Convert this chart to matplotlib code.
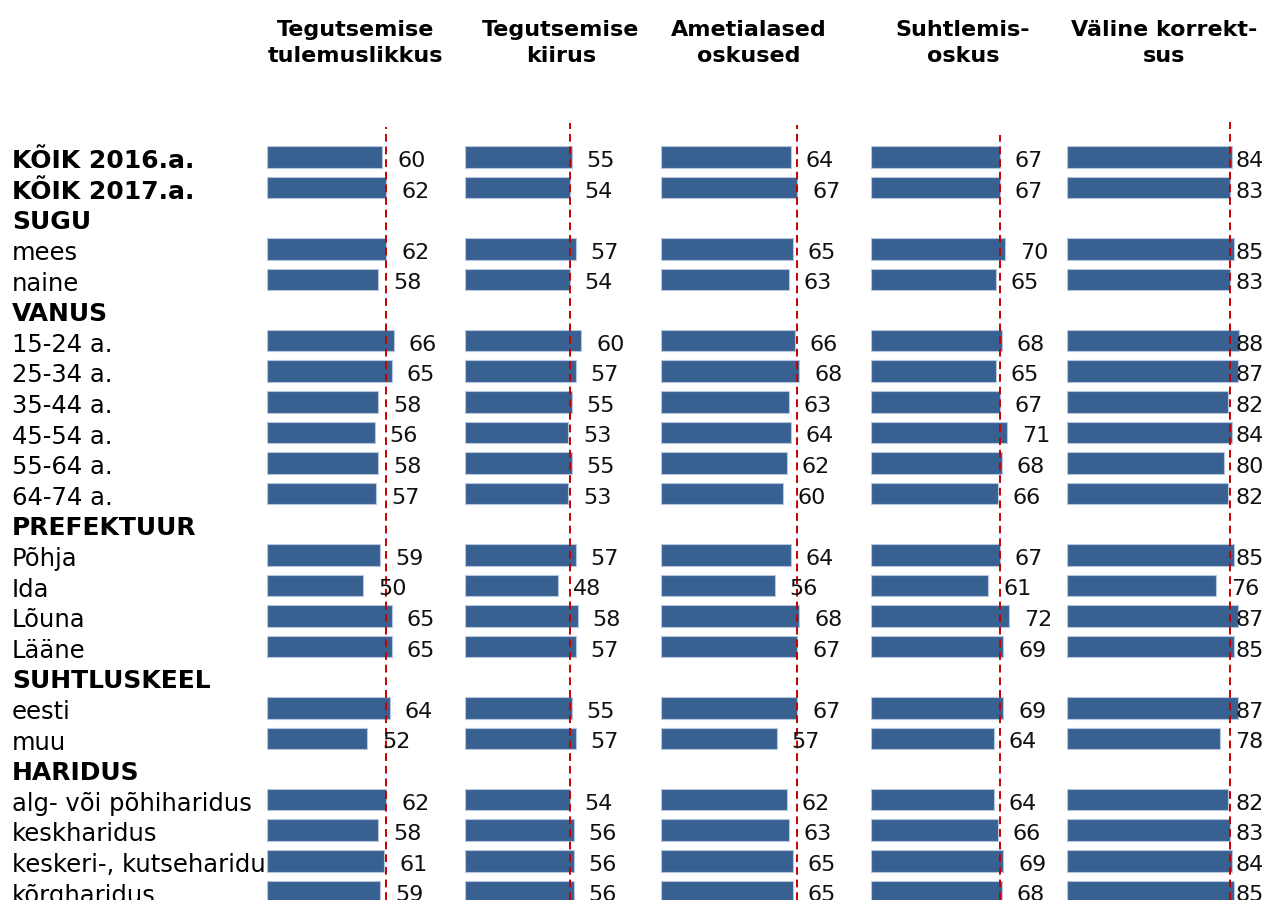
import matplotlib
matplotlib.use("Agg")
import matplotlib.pyplot as plt

plt.rcParams['font.family'] = ['DejaVu Sans']

row_labels = ["KÕIK 2016.a.", "KÕIK 2017.a.", "SUGU", "mees", "naine", "VANUS",
              "15-24 a.", "25-34 a.", "35-44 a.", "45-54 a.", "55-64 a.", "64-74 a.",
              "PREFEKTUUR", "Põhja", "Ida", "Lõuna", "Lääne", "SUHTLUSKEEL",
              "eesti", "muu", "HARIDUS", "alg- või põhiharidus", "keskharidus",
              "keskeri-, kutseharidus", "kõrgharidus"]
bold_rows = {"KÕIK 2016.a.", "KÕIK 2017.a.", "SUGU", "VANUS", "PREFEKTUUR",
             "SUHTLUSKEEL", "HARIDUS"}

panel_titles = ["Tegutsemise\ntulemuslikkus", "Tegutsemise\nkiirus",
                "Ametialased\noskused", "Suhtlemis-\noskus", "Väline korrekt-\nsus"]

N = None
tulemuslikkus = [60, 62, N, 62, 58, N, 66, 65, 58, 56, 58, 57, N, 59, 50, 65, 65, N, 64, 52, N, 62, 58, 61, 59]
kiirus =        [55, 54, N, 57, 54, N, 60, 57, 55, 53, 55, 53, N, 57, 48, 58, 57, N, 55, 57, N, 54, 56, 56, 56]
ametialased =   [64, 67, N, 65, 63, N, 66, 68, 63, 64, 62, 60, N, 64, 56, 68, 67, N, 67, 57, N, 62, 63, 65, 65]
suhtlemis =     [67, 67, N, 70, 65, N, 68, 65, 67, 71, 68, 66, N, 67, 61, 72, 69, N, 69, 64, N, 64, 66, 69, 68]
korrektsus =    [84, 83, N, 85, 83, N, 88, 87, 82, 84, 80, 82, N, 85, 76, 87, 85, N, 87, 78, N, 82, 83, 84, 85]
series = [tulemuslikkus, kiirus, ametialased, suhtlemis, korrektsus]
ref_row = 1  # KÕIK 2017.a. -> dashed reference line

# layout (pixels)
W, H = 1264, 900
panel_left = [267, 465, 661, 871, 1067]
panel_scale = [1.92, 1.94, 2.03, 1.92, 1.96]   # px per unit
title_x = [356, 561, 749, 963, 1164]
dash_top = [127, 123, 125, 135, 122]
label_cap = [None, None, None, None, 1236]
row0_px, row_step = 157, 30.6

fig = plt.figure(figsize=(W / 100, H / 100), dpi=100)
fig.patch.set_facecolor("white")

ylim_top = -row0_px / row_step
ylim_bot = (H - row0_px) / row_step

bar_color = "#386192"
edge_color = "#b7c7de"
for k, vals in enumerate(series):
    xmax = 100
    ax = fig.add_axes([panel_left[k] / W, 0, xmax * panel_scale[k] / W, 1])
    ax.set_xlim(0, xmax)
    ax.set_ylim(ylim_bot, ylim_top)
    ax.axis("off")
    ax.patch.set_alpha(0)
    ax.set_zorder(2)
    ys = [i for i, v in enumerate(vals) if v is not None]
    vs = [v for v in vals if v is not None]
    ax.barh(ys, vs, height=0.7, color=bar_color, edgecolor=edge_color,
            linewidth=0.8, zorder=2)
    pad = 15 / panel_scale[k]
    for y, v in zip(ys, vs):
        lx = v + pad
        if label_cap[k] is not None:
            lx = min(lx, (label_cap[k] - panel_left[k]) / panel_scale[k])
        ax.text(lx, y + 0.13, str(v), ha="left", va="center", fontsize=16,
                color="#111111", zorder=4, clip_on=False)
    ax.axvline(vals[ref_row], ymin=0, ymax=1 - dash_top[k] / H, color="#c80000",
               linestyle=(0, (4, 2.5)), linewidth=1.4, zorder=3)
    fig.text(title_x[k] / W, 1 - 43 / H, panel_titles[k], ha="center", va="center",
             fontsize=16, fontweight="bold", linespacing=1.35,
             multialignment="center")

# row labels (drawn beneath the bars)
lab_ax = fig.add_axes([0, 0, 1, 1])
lab_ax.set_xlim(0, W)
lab_ax.set_ylim(ylim_bot, ylim_top)
lab_ax.axis("off")
lab_ax.set_zorder(1)
for i, lab in enumerate(row_labels):
    is_bold = lab in bold_rows
    lab_ax.text(12, i + 0.14, lab, ha="left", va="center",
                fontsize=18 if is_bold else 17.5,
                fontweight="bold" if is_bold else "normal", color="#000000")

fig.savefig("out.png", dpi=100)
